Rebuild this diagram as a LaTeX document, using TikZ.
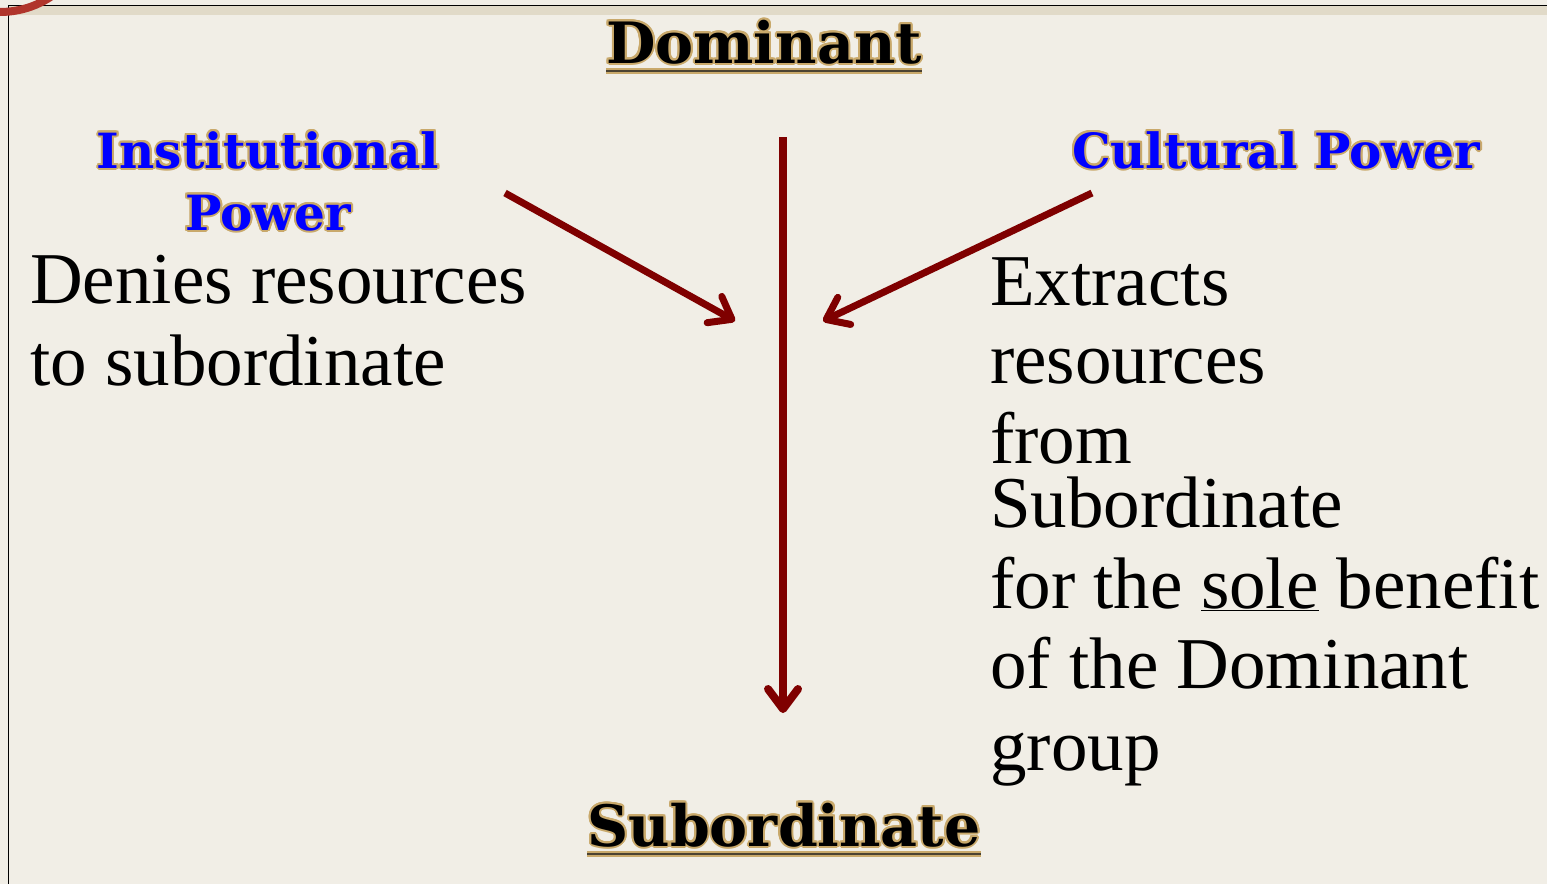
\documentclass[tikz,border=0pt]{standalone}
\usepackage{fontspec}
\setmainfont{Liberation Serif}
\newfontfamily\headfont{DejaVu Serif}
\usepackage[copies]{contour}
\contourlength{2pt}
\contournumber{16}
\usetikzlibrary{arrows.meta}

\definecolor{slidebg}{HTML}{F1EEE6}
\definecolor{stripbg}{HTML}{E1DAC8}
\definecolor{titlegold}{HTML}{C9A96B}
\definecolor{powerblue}{HTML}{0000FF}
\definecolor{arrowred}{HTML}{7F0000}
\definecolor{brushred}{HTML}{B0352C}
\definecolor{linedark}{HTML}{4B4231}
\newcommand{\goldtext}[1]{\contour{titlegold}{#1}}

\begin{document}
\begin{tikzpicture}[x=1pt, y=-1pt,
    title/.style = {font=\headfont\bfseries\fontsize{57}{60}\selectfont, inner sep=0pt, anchor=base},
    power/.style = {font=\headfont\bfseries\fontsize{48.5}{62}\selectfont, text=powerblue, inner sep=0pt, anchor=base},
    body/.style = {font=\fontsize{73}{80}\selectfont, inner sep=0pt, anchor=base west},
    goldline/.style = {draw=titlegold, line width=5.5pt},
    darkline/.style = {draw=linedark, line width=2pt},
    redarrow/.style = {draw=arrowred, line width=7pt, -{Straight Barb[length=20pt, width=30pt, round]}}]
  \useasboundingbox (0,0) rectangle (1547,884);
  % slide background
  \fill[slidebg] (0,0) rectangle (1547,884);
  \fill[stripbg] (8,5) rectangle (1547,15);
  \draw[line width=1.6pt] (1547,5.5) -- (8.5,5.5) -- (8.5,884);
  \begin{scope}
    \clip (0,0) rectangle (1547,884);
    \draw[brushred, line width=8pt] (0,-80) circle[radius=92pt];
  \end{scope}

  % headings
  \node[title] (dom) at (764,63) {\goldtext{Dominant}};
  \node[title] (sub) at (784,846) {\goldtext{Subordinate}};
  \foreach \t in {dom, sub} {
    \draw[goldline] ([yshift=-8pt]\t.base west) -- ([yshift=-8pt]\t.base east);
    \draw[darkline] ([yshift=-8pt]\t.base west) -- ([yshift=-8pt]\t.base east);
  }
  \node[power] (inst) at (268,168) {\goldtext{Institutional}};
  \node[power] (instpow) at (268,230) {\goldtext{Power}};
  \node[power] (cult) at (1276,168) {\goldtext{Cultural Power}};

  % text blocks
  \node[body] (deny1) at (30,303) {Denies resources};
  \node[body] (deny2) at (30,385) {to subordinate};
  \foreach \words/\yb [count=\i] in {Extracts/305, resources/383, from/463, Subordinate/527,
      {for the \underline{sole} benefit}/608, {of the Dominant}/688, group/770}
    \node[body] (extr\i) at (990,\yb) {\words};

  % arrows
  \coordinate (vtop) at (783,137);
  \coordinate (vtip) at (783,713);
  \coordinate (ltail) at (505,193);
  \coordinate (ltip) at (735,321);
  \coordinate (rtail) at (1092,193);
  \coordinate (rtip) at (823,321);
  \draw[redarrow, line width=8pt] (vtop) -- (vtip);
  \draw[redarrow] (ltail) -- (ltip);
  \draw[redarrow] (rtail) -- (rtip);
\end{tikzpicture}
\end{document}
